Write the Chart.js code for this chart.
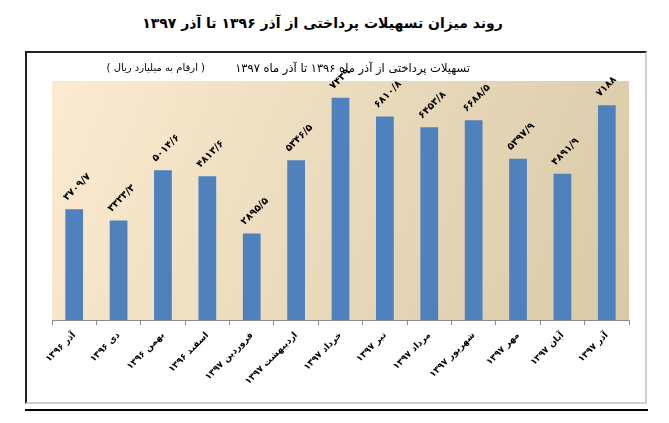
<!DOCTYPE html>
<html>
<head>
<meta charset="utf-8">
<script src="https://cdn.jsdelivr.net/npm/chart.js@4/dist/chart.umd.min.js"></script>
<style>
  body { margin: 0; background: #fff; width: 669px; height: 423px; position: relative; overflow: hidden; font-family: "DejaVu Sans", sans-serif; }
  .title { position: absolute; top: 15px; left: 0; width: 645px; text-align: center; font-weight: bold; font-size: 14px; }
  .wrap { position: absolute; left: 27px; top: 53px; width: 619px; height: 349px; }
  .frame { position: absolute; left: 25px; top: 51px; width: 618px; height: 349px; border-top: 2px solid #222; border-left: 2px solid #222; border-right: 2px solid #d0d0d0; border-bottom: 2px solid #d0d0d0; pointer-events: none; z-index: 2; }
  .sub { position: absolute; top: 61px; white-space: nowrap; }
  .rule { position: absolute; left: 25px; top: 409px; width: 623px; height: 2px; background: #000; }
</style>
</head>
<body>
<div class="title" dir="rtl">روند میزان تسهیلات پرداختی از آذر ۱۳۹۶ تا آذر ۱۳۹۷</div>
<div class="wrap"><canvas id="chart" width="619" height="349"></canvas></div>
<div class="frame"></div>
<div class="sub" dir="rtl" style="right:199px;font-size:11.5px;">تسهیلات پرداختی از آذر ماه ۱۳۹۶ تا آذر ماه ۱۳۹۷</div>
<div class="sub" dir="rtl" style="right:464px;font-size:10px;top:62px;">( ارقام به میلیارد ریال )</div>
<div class="rule"></div>
<script>
// months (Persian calendar)
const months = [
  "آذر ۱۳۹۶", "دی ۱۳۹۶", "بهمن ۱۳۹۶", "اسفند ۱۳۹۶", "فروردین ۱۳۹۷",
  "اردیبهشت ۱۳۹۷", "خرداد ۱۳۹۷", "تیر ۱۳۹۷", "مرداد ۱۳۹۷", "شهریور ۱۳۹۷",
  "مهر ۱۳۹۷", "آبان ۱۳۹۷", "آذر ۱۳۹۷"
];
// facilities paid, billion rials
const facilities = [3709.7, 3333.3, 5014.6, 4813.6, 2895.5, 5346.5, 7439, 6810.8, 6453.8, 6688.5, 5397.9, 4891.9, 7188];

const faDigits = "۰۱۲۳۴۵۶۷۸۹";
const toFa = (v) => String(v).replace(".", "/").replace(/\d/g, (d) => faDigits[d]);

// beige gradient behind the bars
const plotBackground = {
  id: "plotBackground",
  beforeDatasetsDraw(chart) {
    const { ctx } = chart;
    const x = chart.scales.x, y = chart.scales.y;
    const g = ctx.createLinearGradient(x.left, y.top, x.right, y.bottom);
    g.addColorStop(0, "#fcebd0");
    g.addColorStop(1, "#d8c9a8");
    ctx.save();
    ctx.fillStyle = g;
    ctx.fillRect(x.left, y.top, x.right - x.left, y.bottom - y.top);
    ctx.restore();
  },
};

// rotated value labels above each bar
const valueLabels = {
  id: "valueLabels",
  afterDatasetsDraw(chart) {
    const { ctx } = chart;
    const meta = chart.getDatasetMeta(0);
    ctx.save();
    ctx.font = "bold 10px 'DejaVu Sans'";
    ctx.fillStyle = "#000";
    ctx.textAlign = "left";
    ctx.textBaseline = "middle";
    meta.data.forEach((bar, i) => {
      ctx.save();
      ctx.translate(bar.x - 9, bar.y - 10);
      ctx.rotate(-Math.PI / 4);
      ctx.fillText(toFa(facilities[i]), 0, 0);
      ctx.restore();
    });
    ctx.restore();
  },
};

new Chart(document.getElementById("chart"), {
  type: "bar",
  data: {
    labels: months,
    datasets: [
      {
        data: facilities,
        backgroundColor: "#4f81bd",
        categoryPercentage: 0.8,
        barPercentage: 0.5,
      },
    ],
  },
  options: {
    responsive: false,
    animation: false,
    layout: { padding: { left: 25, right: 17, top: 28, bottom: 2 } },
    plugins: { legend: { display: false }, tooltip: { enabled: false } },
    scales: {
      x: {
        afterFit(scale) {
          scale.height = 80;
          scale.paddingLeft = 0;
          scale.paddingRight = 0;
        },
        border: { color: "#8c8c8c" },
        grid: { drawOnChartArea: false, drawTicks: true, tickLength: 5, color: "#8c8c8c" },
        ticks: {
          color: "#000",
          font: { family: "DejaVu Sans", size: 9, weight: "bold" },
          minRotation: 45,
          maxRotation: 45,
          padding: 5,
          autoSkip: false,
        },
      },
      y: { display: false, min: 0, max: 8000 },
    },
  },
  plugins: [plotBackground, valueLabels],
});
</script>
</body>
</html>
